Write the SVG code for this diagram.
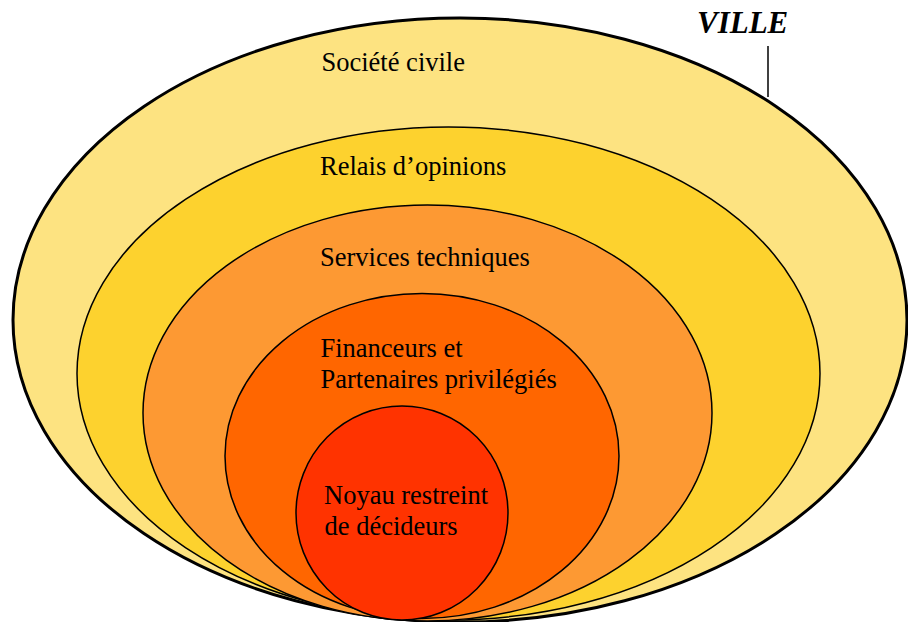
<svg xmlns="http://www.w3.org/2000/svg" width="908" height="622" viewBox="0 0 908 622">
<style>
.ring{stroke:#000;stroke-width:1.5}
.outer{stroke:#000;stroke-width:3}
.lbl{font-family:"Liberation Serif","Times New Roman",serif;font-size:26.5px;fill:#000}
.ville{font-family:"Liberation Serif","Times New Roman",serif;font-size:31px;font-weight:bold;font-style:italic;fill:#000}
</style>
<rect width="908" height="622" fill="#fff"/>
<g id="ville">
<ellipse class="outer" cx="460" cy="320" rx="447" ry="302" fill="#FDE381"/>
<text class="ville" x="697" y="33">VILLE</text>
</g>
<g id="connectors">
<line x1="768" y1="46" x2="768" y2="97" stroke="#000" stroke-width="1.5"/>
</g>
<g id="societe-civile">
<text class="lbl" x="321.5" y="71">Société civile</text>
</g>
<g id="relais-opinions">
<ellipse class="ring" cx="448.5" cy="373.5" rx="371.5" ry="246.5" fill="#FDD22E"/>
<text class="lbl" x="320" y="175">Relais d’opinions</text>
</g>
<g id="services-techniques">
<ellipse class="ring" cx="427.5" cy="413" rx="284.5" ry="208" fill="#FD9933"/>
<text class="lbl" x="320" y="266">Services techniques</text>
</g>
<g id="financeurs">
<ellipse class="ring" cx="422" cy="456" rx="197" ry="162.5" fill="#FF6600"/>
<text class="lbl" x="320.5" y="357">Financeurs et</text>
<text class="lbl" x="320.5" y="388">Partenaires privilégiés</text>
</g>
<g id="noyau">
<ellipse class="ring" cx="402" cy="513" rx="106" ry="107" fill="#FF3300"/>
<text class="lbl" x="324" y="504">Noyau restreint</text>
<text class="lbl" x="324.5" y="534.5">de décideurs</text>
</g>
</svg>
